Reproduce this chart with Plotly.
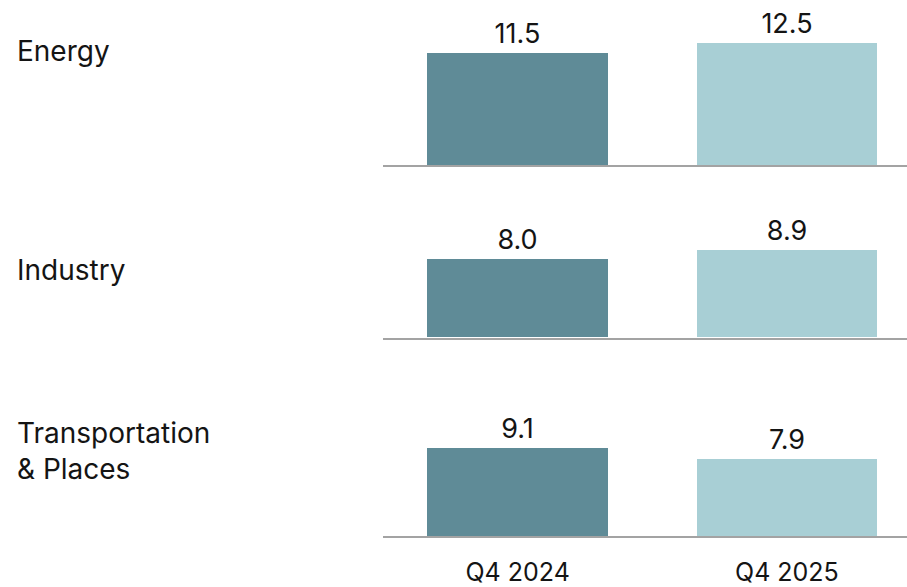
import plotly.graph_objects as go

# Data
sectors = ["Energy", "Industry", "Transportation<br>& Places"]
periods = ["Q4 2024", "Q4 2025"]
q4_2024 = [11.5, 8.0, 9.1]
q4_2025 = [12.5, 8.9, 7.9]

DARK = "#5f8b97"
LIGHT = "#a8cfd5"
FONT = "Inter"
TEXT = "#141414"

W, H = 907, 587
PX_PER_UNIT = 9.85
Y_MAX = 15
baselines_px = [167, 341, 542]          # pixel row of each panel's baseline
label_centers_px = [52, 273, 456]        # vertical centre of each sector label

fig = go.Figure()

for i, (a, b) in enumerate(zip(q4_2024, q4_2025)):
    n = "" if i == 0 else str(i + 1)
    fig.add_trace(go.Bar(
        x=periods, y=[a, b],
        marker=dict(color=[DARK, LIGHT], line_width=0),
        width=0.67,
        text=[f"{a:.1f}", f"{b:.1f}"],
        textposition="outside",
        textfont=dict(family=FONT, size=27, color=TEXT),
        cliponaxis=False,
        xaxis="x" + n, yaxis="y" + n,
        showlegend=False,
        hoverinfo="skip",
    ))

    bottom = (H - baselines_px[i]) / H
    top = (H - (baselines_px[i] - Y_MAX * PX_PER_UNIT)) / H
    last = i == len(q4_2024) - 1
    fig.layout["xaxis" + n] = dict(
        domain=[383 / W, 1],
        range=[-0.5, 1.446],
        anchor="y" + n,
        showline=True, linecolor="#a3a3a3", linewidth=1.6,
        showgrid=False, zeroline=False,
        showticklabels=last,
        ticks="outside" if last else "",
        ticklen=13, tickcolor="rgba(0,0,0,0)",
        tickfont=dict(family=FONT, size=25, color=TEXT),
    )
    fig.layout["yaxis" + n] = dict(
        domain=[bottom, top],
        range=[0, Y_MAX],
        anchor="x" + n,
        visible=False,
    )

    fig.add_annotation(
        text=sectors[i], xref="paper", yref="paper",
        x=15 / W, y=(H - label_centers_px[i]) / H,
        xanchor="left", yanchor="middle", align="left",
        showarrow=False,
        font=dict(family=FONT, size=28, color=TEXT),
    )

fig.update_layout(
    width=W, height=H,
    margin=dict(l=0, r=0, t=0, b=0),
    paper_bgcolor="white", plot_bgcolor="white",
    bargap=0,
)

fig.write_html("out.html")
